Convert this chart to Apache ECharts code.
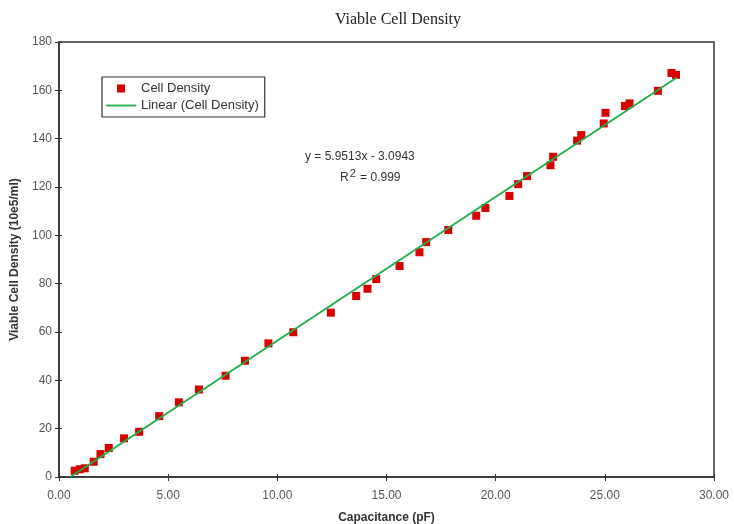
<!DOCTYPE html>
<html>
<head>
<meta charset="utf-8">
<script src="https://cdn.jsdelivr.net/npm/echarts@6/dist/echarts.min.js"></script>
<style>
  html, body { margin: 0; padding: 0; background: #fff; }
  #chart { width: 734px; height: 524px; }
</style>
</head>
<body>
<div id="chart"></div>
<script>
// measured points (capacitance in pF, density in 10e5/ml)
const capacitance = [0.72, 0.95, 1.18, 1.59, 1.9, 2.28, 2.98, 3.67, 4.59, 5.49, 6.41,
  7.63, 8.52, 9.59, 10.73, 12.45, 13.61, 14.13, 14.53, 15.6, 16.51, 16.82, 17.83,
  19.11, 19.53, 20.63, 21.03, 21.44, 22.51, 22.63, 23.73, 23.92, 24.95, 25.03,
  25.92, 26.13, 27.43, 28.05, 28.26];
const density = [2.6, 3.2, 3.6, 6.3, 9.5, 12, 16, 18.7, 25.2, 30.9, 36.2,
  41.9, 48.1, 55.3, 59.9, 68, 74.9, 77.9, 81.9, 87.3, 93, 97.2, 102.2,
  108.1, 111.3, 116.3, 121.2, 124.5, 129, 132.5, 139.2, 141.5, 146.3, 150.7,
  153.5, 154.6, 159.8, 167.2, 166.4];

// trendline endpoints as drawn
const trendX = [0.55, 28.3];
const trendY = [0.2, 165.3];

const xTicks = [0, 5, 10, 15, 20, 25, 30];

const chart = echarts.init(document.getElementById("chart"));

const labelFont = { color: "#555", fontSize: 12, fontFamily: "Liberation Sans, Arial, sans-serif" };

const option = {
  animation: false,
  title: {
    text: "Viable Cell Density",
    left: 393,
    textAlign: "center",
    top: 7,
    textStyle: { fontFamily: "Liberation Serif, Times New Roman, serif", fontWeight: "normal", fontSize: 16, color: "#222" },
  },
  grid: {
    left: 59, right: 20, top: 42, bottom: 47,
    outerBoundsMode: "none",
    show: true, borderColor: "#333", borderWidth: 1.5,
  },
  legend: {
    orient: "vertical",
    left: 102,
    top: 77,
    padding: [5, 6, 5, 4],
    itemGap: 4,
    itemWidth: 30,
    itemHeight: 8,
    borderColor: "#333",
    borderWidth: 1.2,
    textStyle: { fontSize: 13, color: "#333", fontFamily: "Liberation Sans, Arial, sans-serif" },
    data: [
      { name: "Cell Density", icon: "path://M0,0L1,0L1,1L0,1Z" },
      { name: "Linear (Cell Density)", icon: "path://M0,3.1L30,3.1L30,4.9L0,4.9Z" },
    ],
  },
  xAxis: [
    {
      type: "value", min: 0, max: 30, interval: 5,
      name: "Capacitance (pF)", nameLocation: "middle", nameGap: 35,
      nameTextStyle: { fontWeight: "bold", fontSize: 12, color: "#333", fontFamily: "Liberation Sans, Arial, sans-serif" },
      axisLine: { onZero: false, lineStyle: { color: "#333", width: 1.5 } },
      axisTick: { length: 4, lineStyle: { color: "#333" } },
      axisLabel: { ...labelFont, margin: 13, formatter: (v) => (xTicks.includes(v) ? v.toFixed(2) : "") },
      splitLine: { show: false },
    },
    {
      type: "value", min: 0, max: 30, interval: 5, position: "bottom",
      axisLine: { show: false },
      axisTick: { inside: true, length: 3, lineStyle: { color: "#333" } },
      axisLabel: { show: false },
      splitLine: { show: false },
    },
  ],
  yAxis: [
    {
      type: "value", min: 0, max: 180, interval: 20,
      name: "Viable Cell Density (10e5/ml)", nameLocation: "middle", nameGap: 33,
      nameTextStyle: { fontWeight: "bold", fontSize: 12, color: "#333", fontFamily: "Liberation Sans, Arial, sans-serif" },
      axisLine: { show: true, onZero: false, lineStyle: { color: "#333", width: 1.5 } },
      axisTick: { show: true, length: 4, lineStyle: { color: "#333" } },
      axisLabel: { ...labelFont, margin: 7 },
      splitLine: { show: false },
    },
    {
      type: "value", min: 0, max: 180, interval: 20, position: "left",
      axisLine: { show: false },
      axisTick: { show: true, inside: true, length: 3, lineStyle: { color: "#333" } },
      axisLabel: { show: false },
      splitLine: { show: false },
    },
  ],
  graphic: [
    {
      type: "text", left: 305, top: 151,
      style: { text: "y = 5.9513x - 3.0943", fill: "#333", font: "12px Liberation Sans, Arial, sans-serif" },
    },
    {
      type: "text", left: 340, top: 168,
      style: {
        text: "R{sup|2} = 0.999",
        fill: "#333", font: "12px Liberation Sans, Arial, sans-serif",
        rich: { sup: { fontSize: 11, verticalAlign: "top", padding: [0, 1, 8, 1] } },
      },
    },
  ],
  series: [
    {
      name: "Cell Density",
      type: "scatter",
      symbol: "rect",
      symbolSize: 8,
      symbolKeepAspect: true,
      itemStyle: { color: "#d80000", opacity: 1 },
      data: capacitance.map((x, i) => [x, density[i]]),
      z: 2,
    },
    {
      name: "Linear (Cell Density)",
      type: "line",
      symbol: "none",
      symbolKeepAspect: true,
      lineStyle: { color: "#26ad4a", width: 2 },
      itemStyle: { color: "#26ad4a" },
      data: trendX.map((x, i) => [x, trendY[i]]),
      z: 3,
    },
  ],
};

chart.setOption(option);
</script>
</body>
</html>
